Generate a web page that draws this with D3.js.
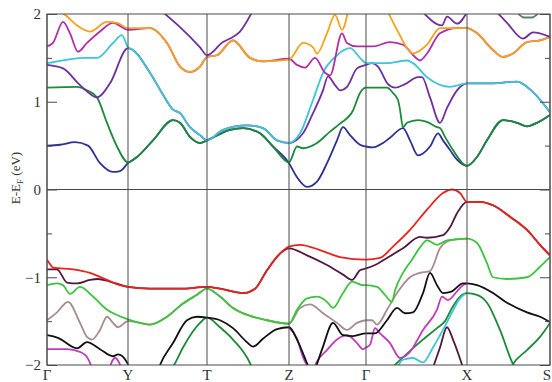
<!DOCTYPE html>
<html><head><meta charset="utf-8">
<script src="https://cdn.jsdelivr.net/npm/d3@7"></script>
<style>html,body{margin:0;padding:0;background:#fff;}svg{display:block;}</style>
</head><body>
<svg id="chart" width="552" height="382"></svg>
<script>
// ---- data (k-path distance, energy in eV) ----
const kTicks  = [0, 0.81, 1.60, 2.42, 3.19, 4.20, 5.03];
const kLabels = ["Γ", "Y", "T", "Z", "Γ", "X", "S"];
const eMajor  = [-2, -1, 0, 1, 2];
const eMinor  = [-1.5, -0.5, 0.5, 1.5];

// conduction bands
const bandBlue = [[0,0.50],[0.13,0.51],[0.28,0.54],[0.41,0.50],[0.53,0.30],[0.66,0.20],[0.73,0.21],[0.81,0.30],
  [0.90,0.37],[1.06,0.56],[1.26,0.79],[1.33,0.76],[1.43,0.60],[1.53,0.53],[1.60,0.56],[1.83,0.68],[1.96,0.70],[2.13,0.64],[2.26,0.49],[2.42,0.30],
  [2.50,0.14],[2.60,0.03],[2.70,0.09],[2.80,0.30],[2.90,0.56],[2.96,0.71],[3.03,0.62],[3.13,0.51],[3.19,0.49],
  [3.26,0.48],[3.36,0.53],[3.43,0.59],[3.56,0.70],[3.63,0.56],[3.71,0.39],[3.76,0.41],[3.83,0.49],[3.91,0.64],[3.96,0.56],[4.03,0.45],[4.10,0.34],[4.20,0.27],
  [4.30,0.37],[4.40,0.56],[4.56,0.79],[4.70,0.76],[4.80,0.72],[4.90,0.76],[5.03,0.85]];
const bandGreen = [[0,1.16],[0.30,1.17],[0.40,1.13],[0.50,1.05],[0.60,0.76],[0.70,0.49],[0.81,0.31],
  [0.90,0.37],[1.06,0.56],[1.26,0.79],[1.33,0.76],[1.43,0.60],[1.53,0.53],[1.60,0.56],
  [1.83,0.68],[1.96,0.70],[2.13,0.64],[2.26,0.49],[2.42,0.31],
  [2.50,0.49],[2.56,0.47],[2.70,0.53],[2.83,0.66],[2.93,0.75],[3.06,0.90],[3.13,1.10],[3.19,1.16],
  [3.40,1.16],[3.46,1.10],[3.51,1.02],[3.53,0.91],[3.56,0.71],[3.60,0.76],[3.71,0.79],[3.80,0.77],[3.90,0.71],[3.93,0.70],[3.98,0.60],[4.06,0.45],[4.20,0.27],
  [4.30,0.37],[4.40,0.56],[4.56,0.79],[4.70,0.76],[4.80,0.72],[4.90,0.76],[5.03,0.85]];
const bandPurple = [[0,1.42],[0.16,1.38],[0.33,1.19],[0.50,1.05],[0.63,1.21],[0.81,1.61],
  [0.86,1.59],[1.03,1.33],[1.15,1.10],[1.26,0.91],[1.33,0.87],[1.43,0.71],[1.53,0.62],[1.60,0.56],
  [1.76,0.68],[2.00,0.73],[2.16,0.70],[2.30,0.56],[2.42,0.53],
  [2.56,0.64],[2.66,0.87],[2.76,1.13],[2.81,1.29],[2.88,1.19],[2.93,1.13],[3.00,1.17],[3.10,1.38],[3.19,1.42],
  [3.25,1.44],[3.31,1.40],[3.41,1.20],[3.48,1.16],[3.58,1.20],[3.71,1.28],[3.75,1.28],[3.83,1.05],[3.93,0.76],[4.00,0.93],[4.10,1.13],[4.20,1.21],
  [4.46,1.21],[4.70,1.23],[4.86,1.11],[5.03,0.88]];
const bandCyan = [[0,1.44],[0.06,1.45],[0.36,1.50],[0.50,1.50],[0.66,1.67],[0.75,1.76],[0.81,1.62],
  [0.86,1.59],[1.03,1.33],[1.15,1.10],[1.26,0.91],[1.33,0.87],[1.43,0.71],[1.53,0.62],[1.60,0.56],
  [1.76,0.68],[2.00,0.73],[2.16,0.70],[2.30,0.56],[2.42,0.53],
  [2.53,0.64],[2.66,1.02],[2.76,1.33],[2.90,1.53],[3.03,1.61],[3.13,1.50],[3.19,1.44],
  [3.40,1.44],[3.60,1.47],[3.66,1.44],[3.80,1.28],[4.03,1.17],[4.20,1.21],
  [4.46,1.21],[4.70,1.23],[4.86,1.11],[5.03,0.88]];
const bandMagentaUp = [[0,1.63],[0.06,1.67],[0.16,1.91],[0.23,1.78],[0.31,1.57],[0.40,1.67],[0.53,1.80],[0.66,1.90],[0.81,1.82],
  [1.03,1.84],[1.20,1.67],[1.33,1.40],[1.43,1.34],[1.53,1.40],[1.60,1.51],[1.70,1.53],[1.86,1.70],[2.03,1.50],[2.16,1.46],[2.42,1.49],
  [2.50,1.42],[2.58,1.39],[2.68,1.50],[2.78,1.33],[2.83,1.30],[2.95,1.78],[3.00,1.67],[3.10,1.63],[3.19,1.63],
  [3.26,1.63],[3.43,1.68],[3.56,1.65],[3.68,1.51],[3.73,1.47],[3.80,1.55],[3.93,1.78],[4.10,1.84],[4.20,1.84],
  [4.30,1.78],[4.46,1.59],[4.56,1.51],[4.66,1.55],[4.80,1.68],[4.93,1.70],[5.03,1.74]];
const bandOrange = [[0.10,2.03],[0.18,1.99],[0.30,1.87],[0.43,1.80],[0.60,1.91],[0.70,1.90],[0.81,1.84],
  [1.03,1.84],[1.20,1.67],[1.33,1.40],[1.43,1.34],[1.53,1.40],[1.60,1.51],
  [1.70,1.53],[1.86,1.70],[2.03,1.50],[2.16,1.46],[2.42,1.48],
  [2.56,1.67],[2.66,1.62],[2.70,1.55],[2.80,1.78],[2.88,1.99],[2.95,1.82],[3.01,2.03]];
const bandOrange2 = [[3.41,2.02],[3.50,1.82],[3.63,1.57],[3.66,1.55],[3.80,1.65],[3.93,1.84],[4.20,1.84],
  [4.30,1.78],[4.46,1.59],[4.56,1.51],[4.66,1.55],[4.80,1.68],[4.93,1.70],[5.03,1.74]];
const bandPurpleTop1 = [[1.16,2.02],[1.33,1.85],[1.53,1.62],[1.60,1.53],[1.76,1.68],[1.83,1.72],[1.93,1.80],[2.05,2.02]];
const bandPurpleTop2 = [[3.76,2.02],[3.95,1.87],[4.00,1.97],[4.10,1.89],[4.20,2.02]];
const bandPurpleTop3 = [[4.50,2.02],[4.60,1.90],[4.76,1.72],[4.86,1.79],[5.03,1.74]];
const bandGreenTop = [[4.70,2.02],[4.77,1.96],[4.85,1.96],[4.92,2.02]];

// valence bands
const bandMaroon = [[0,-0.91],[0.10,-0.91],[0.20,-1.06],[0.30,-1.07],[0.43,-1.03],[0.51,-1.02],[0.63,-1.05],[0.81,-1.11],
  [1.03,-1.13],[1.33,-1.13],[1.60,-1.11],[1.73,-1.13],[1.96,-1.18],[2.08,-1.13],[2.20,-0.92],[2.33,-0.73],[2.42,-0.67],
  [2.60,-0.75],[2.80,-0.86],[2.96,-0.97],[3.05,-1.03],[3.13,-0.92],[3.19,-0.90],
  [3.28,-0.86],[3.40,-0.78],[3.56,-0.67],[3.73,-0.54],[3.80,-0.55],[3.96,-0.52],[4.03,-0.43],[4.10,-0.27],[4.20,-0.14],
  [4.33,-0.14],[4.46,-0.18],[4.63,-0.31],[4.80,-0.46],[4.93,-0.63],[5.03,-0.75]];
const bandRed = [[0,-0.80],[0.03,-0.85],[0.06,-0.89],[0.26,-0.91],[0.43,-0.95],[0.60,-1.03],[0.73,-1.09],[0.81,-1.11],
  [1.03,-1.13],[1.33,-1.13],[1.60,-1.11],[1.73,-1.13],[1.96,-1.18],[2.08,-1.13],[2.20,-0.92],[2.33,-0.73],[2.42,-0.65],
  [2.53,-0.63],[2.73,-0.69],[2.93,-0.77],[3.19,-0.80],
  [3.33,-0.78],[3.46,-0.65],[3.63,-0.46],[3.80,-0.23],[3.96,-0.04],[4.05,0.0],[4.13,-0.04],[4.20,-0.14],
  [4.33,-0.14],[4.46,-0.18],[4.63,-0.31],[4.80,-0.46],[4.93,-0.63],[5.03,-0.75]];
const bandGrey = [[0,-1.49],[0.10,-1.40],[0.21,-1.28],[0.33,-1.52],[0.40,-1.68],[0.45,-1.71],[0.53,-1.60],[0.60,-1.45],[0.66,-1.52],[0.71,-1.57],[0.81,-1.50],
  [0.93,-1.52],[1.03,-1.54],[1.20,-1.45],[1.36,-1.30],[1.50,-1.20],[1.60,-1.13],
  [1.73,-1.22],[1.86,-1.35],[2.03,-1.44],[2.20,-1.49],[2.42,-1.53],
  [2.53,-1.35],[2.63,-1.31],[2.76,-1.41],[2.90,-1.52],[3.00,-1.60],[3.10,-1.52],[3.19,-1.49],
  [3.25,-1.49],[3.30,-1.54],[3.40,-1.37],[3.50,-1.18],[3.63,-1.00],[3.73,-0.95],[3.83,-0.93],[3.93,-0.67],[4.03,-0.58],[4.20,-0.56]];
const bandLime = [[0,-1.09],[0.10,-1.07],[0.16,-1.09],[0.23,-1.19],[0.33,-1.11],[0.46,-1.22],[0.60,-1.37],[0.70,-1.43],[0.81,-1.48],
  [0.93,-1.52],[1.03,-1.54],[1.20,-1.45],[1.36,-1.30],[1.50,-1.20],[1.60,-1.13],
  [1.73,-1.22],[1.86,-1.35],[2.03,-1.44],[2.20,-1.49],[2.42,-1.53],
  [2.50,-1.37],[2.60,-1.24],[2.70,-1.22],[2.80,-1.28],[2.86,-1.35],[2.96,-1.18],[3.05,-1.05],[3.16,-1.09],[3.19,-1.09],
  [3.30,-1.11],[3.38,-1.20],[3.45,-1.28],[3.48,-1.15],[3.56,-0.95],[3.65,-0.80],[3.73,-0.66],[3.80,-0.58],[3.90,-0.63],[4.00,-0.58],[4.20,-0.56],
  [4.30,-0.61],[4.40,-0.84],[4.46,-1.00],[4.60,-1.02],[4.80,-1.00],[4.93,-0.88],[5.03,-0.77]];
const bandBlack1 = [[0,-1.66],[0.11,-1.69],[0.30,-1.81],[0.40,-1.74],[0.53,-1.82],[0.66,-1.90],[0.71,-1.88],[0.80,-1.97],[0.83,-2.06]];
const bandBlack2 = [[1.11,-2.06],[1.13,-2.00],[1.26,-1.75],[1.40,-1.49],[1.50,-1.45],[1.60,-1.46],
  [1.73,-1.49],[1.86,-1.58],[2.00,-1.74],[2.06,-1.79],[2.16,-1.70],[2.30,-1.59],[2.42,-1.57],
  [2.50,-1.71],[2.60,-1.98],[2.63,-2.06]];
const bandBlack3 = [[2.68,-2.06],[2.76,-1.79],[2.86,-1.52],[2.96,-1.66],[3.06,-1.67],[3.19,-1.64],
  [3.28,-1.64],[3.40,-1.49],[3.50,-1.35],[3.58,-1.41],[3.66,-1.40],[3.76,-1.18],[3.83,-0.95],[3.90,-1.09],[3.96,-1.18],[4.05,-1.16],[4.16,-1.07],[4.20,-1.07],
  [4.30,-1.09],[4.46,-1.18],[4.60,-1.29],[4.80,-1.40],[4.93,-1.45],[5.03,-1.51]];
const bandMagenta1 = [[0,-1.82],[0.20,-1.82],[0.33,-1.85],[0.40,-1.91],[0.46,-2.06]];
const bandMagenta2 = [[0.62,-2.06],[0.65,-1.96],[0.68,-1.92],[0.72,-1.97],[0.75,-2.06]];
const bandMagenta3 = [[2.42,-1.57],[2.50,-1.70],[2.56,-1.91],[2.63,-2.06]];
const bandMagenta4 = [[2.66,-2.06],[2.70,-1.96],[2.80,-1.83],[2.90,-1.71],[3.00,-1.66],[3.10,-1.75],[3.16,-1.82],[3.19,-1.80],
  [3.23,-1.77],[3.28,-1.58],[3.33,-1.64],[3.43,-1.75],[3.53,-1.92],[3.63,-1.85],[3.76,-1.60],[3.90,-1.37],[3.95,-1.22],[4.01,-1.26],[4.10,-1.16],[4.16,-1.09],[4.20,-1.07]];
const bandDkGreen1 = [[1.23,-2.06],[1.27,-2.00],[1.36,-1.80],[1.53,-1.52],[1.60,-1.46],[1.73,-1.57],[1.86,-1.71],[2.03,-1.98],[2.06,-2.06]];
const bandDkGreen2 = [[3.45,-2.03],[3.60,-1.87],[3.75,-1.72],[3.90,-1.58],[3.98,-1.50],[4.05,-1.35],[4.13,-1.22],[4.20,-1.18],
  [4.30,-1.20],[4.40,-1.29],[4.53,-1.60],[4.66,-1.99],[4.68,-2.03]];
const bandDkGreen3 = [[4.64,-2.03],[4.66,-1.99],[4.80,-1.83],[4.93,-1.68],[5.03,-1.52]];
const bandCyanLow = [[3.50,-2.03],[3.56,-1.94],[3.66,-1.92],[3.76,-1.97],[3.86,-1.80],[3.96,-1.60],[4.05,-1.40],[4.13,-1.24],[4.18,-1.19]];
const bandMaroonLow = [[3.86,-2.03],[3.93,-1.80],[4.00,-1.57],[4.06,-1.71],[4.16,-2.03]];

const series = [
  {d: bandBlue, c: "#2e3192"}, {d: bandGreen, c: "#1b8a3a"},
  {d: bandPurple, c: "#6f2f9f"}, {d: bandCyan, c: "#3cc6d6"},
  {d: bandMagentaUp, c: "#b02fa8"}, {d: bandOrange, c: "#f7a21b"}, {d: bandOrange2, c: "#f7a21b"},
  {d: bandPurpleTop1, c: "#6f2f9f"}, {d: bandPurpleTop2, c: "#6f2f9f"}, {d: bandPurpleTop3, c: "#6f2f9f"},
  {d: bandGreenTop, c: "#5f7f66"},
  {d: bandDkGreen1, c: "#1b8a3a"}, {d: bandDkGreen2, c: "#1b8a3a"}, {d: bandDkGreen3, c: "#1b8a3a"},
  {d: bandCyanLow, c: "#3cc6d6"}, {d: bandMaroonLow, c: "#50193f"},
  {d: bandMagenta1, c: "#c03cbc"}, {d: bandMagenta2, c: "#c03cbc"}, {d: bandMagenta3, c: "#c03cbc"}, {d: bandMagenta4, c: "#c03cbc"},
  {d: bandBlack1, c: "#111111"}, {d: bandBlack2, c: "#111111"}, {d: bandBlack3, c: "#111111"},
  {d: bandGrey, c: "#a68c8c"}, {d: bandLime, c: "#3cc43c"},
  {d: bandMaroon, c: "#50193f"}, {d: bandRed, c: "#e8231b"}
];

// ---- drawing ----
const svg = d3.select("#chart");
const x = d3.scaleLinear().domain([kTicks[0], kTicks[kTicks.length - 1]]).range([47, 550]);
const y = d3.scaleLinear().domain([-2, 2]).range([365, 14]);
const axisColor = "#4a4a4a";

svg.append("defs").append("clipPath").attr("id", "clip")
  .append("rect").attr("x", x.range()[0]).attr("y", y.range()[1])
  .attr("width", x.range()[1] - x.range()[0]).attr("height", y.range()[0] - y.range()[1]);

const line = d3.line().x(d => x(d[0])).y(d => y(d[1])).curve(d3.curveMonotoneX);
const g = svg.append("g").attr("clip-path", "url(#clip)");
series.forEach(s => {
  g.append("path").attr("d", line(s.d)).attr("fill", "none")
    .attr("stroke", s.c).attr("stroke-width", 1.8).attr("stroke-linejoin", "round");
});

// high-symmetry vertical lines and Fermi level
svg.append("g").selectAll("line").data(kTicks).join("line")
  .attr("x1", d => x(d)).attr("x2", d => x(d)).attr("y1", y(2)).attr("y2", y(-2))
  .attr("stroke", axisColor).attr("stroke-width", 1);
svg.append("line").attr("x1", x.range()[0]).attr("x2", x.range()[1])
  .attr("y1", y(0)).attr("y2", y(0)).attr("stroke", axisColor).attr("stroke-width", 1);
svg.append("rect").attr("x", x.range()[0]).attr("y", y(2))
  .attr("width", x.range()[1] - x.range()[0]).attr("height", y(-2) - y(2))
  .attr("fill", "none").attr("stroke", axisColor).attr("stroke-width", 1);

// y axes with inward ticks
const fontFam = "'Liberation Serif','DejaVu Serif',serif";
function styleAxis(sel) {
  sel.select(".domain").remove();
  sel.selectAll(".tick line").attr("stroke", axisColor);
  sel.selectAll("text").attr("fill", "#333").style("font-family", fontFam).style("font-size", "15px");
}
svg.append("g").attr("transform", `translate(${x.range()[0]},0)`)
  .call(d3.axisLeft(y).tickValues(eMajor).tickSize(-10).tickPadding(6).tickFormat(d3.format("d")))
  .call(styleAxis);
svg.append("g").attr("transform", `translate(${x.range()[0]},0)`)
  .call(d3.axisLeft(y).tickValues(eMinor).tickSize(-5).tickFormat(""))
  .call(styleAxis);
svg.append("g").attr("transform", `translate(${x.range()[1]},0)`)
  .call(d3.axisRight(y).tickValues(eMajor).tickSize(-10).tickFormat(""))
  .call(styleAxis);
svg.append("g").attr("transform", `translate(${x.range()[1]},0)`)
  .call(d3.axisRight(y).tickValues(eMinor).tickSize(-5).tickFormat(""))
  .call(styleAxis);

// k-point labels (last one kept inside the window)
svg.append("g").selectAll("text").data(kTicks).join("text")
  .attr("x", (d, i) => i === kTicks.length - 1 ? x(d) - 3 : x(d)).attr("y", 380)
  .attr("text-anchor", "middle")
  .attr("fill", "#333").style("font-family", fontFam).style("font-size", "15px")
  .text((d, i) => kLabels[i]);

// y label
const yl = svg.append("text").attr("transform", "translate(20,178) rotate(-90)")
  .attr("text-anchor", "middle").attr("fill", "#333")
  .style("font-family", fontFam).style("font-size", "13px");
yl.append("tspan").text("E-E");
yl.append("tspan").attr("dy", 3).style("font-size", "9px").text("F");
yl.append("tspan").attr("dy", -3).text(" (eV)");
</script>
</body></html>
